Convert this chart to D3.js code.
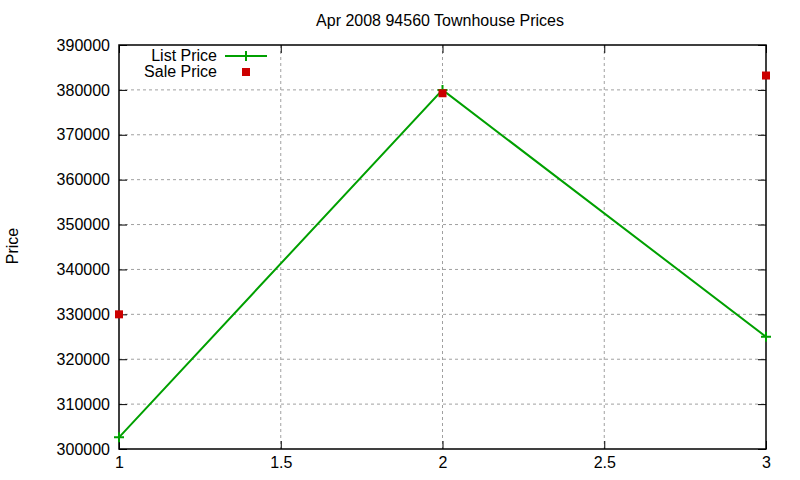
<!DOCTYPE html>
<html>
<head>
<meta charset="utf-8">
<script src="https://cdn.jsdelivr.net/npm/d3@7"></script>
<style>
  body { margin: 0; background: #fff; }
  text { font-family: "Liberation Sans", Arial, sans-serif; }
</style>
</head>
<body>
<div id="chart"></div>
<script>
// data
const xs = [1, 2, 3]
const list_price = [302600, 380000, 325000]
const sale_price = [330000, 379250, 383200]
const x_ticks = [1, 1.5, 2, 2.5, 3]
const y_ticks = [300000, 310000, 320000, 330000, 340000, 350000, 360000, 370000, 380000, 390000]

const width = 800
const height = 480
const plot_left = 119, plot_right = 766, plot_top = 45, plot_bottom = 449
const font_size = 16

const green = "#00a000"
const red = "#cc0000"

const svg = d3.select("#chart").append("svg").attr("width", width).attr("height", height)

const x_scale = d3.scaleLinear().domain([1, 3]).range([plot_left, plot_right])
const y_scale = d3.scaleLinear().domain([300000, 390000]).range([plot_bottom, plot_top])

// grid
const grid = svg.append("g")
grid.selectAll(".gx").data(x_ticks.slice(1, -1)).join("line")
  .attr("x1", d => x_scale(d)).attr("x2", d => x_scale(d))
  .attr("y1", plot_top).attr("y2", plot_bottom)
  .attr("stroke", "#a0a0a0").attr("stroke-dasharray", "3,3")
grid.selectAll(".gy").data(y_ticks.slice(1, -1)).join("line")
  .attr("x1", plot_left).attr("x2", plot_right)
  .attr("y1", d => y_scale(d)).attr("y2", d => y_scale(d))
  .attr("stroke", "#a0a0a0").attr("stroke-dasharray", "3,3")

// axes, ticks inward and mirrored like gnuplot
svg.append("g").attr("transform", `translate(${plot_left},0)`)
  .call(d3.axisLeft(y_scale).tickValues(y_ticks).tickFormat(d3.format("d")).tickSize(-8).tickPadding(9))
svg.append("g").attr("transform", `translate(${plot_right},0)`)
  .call(d3.axisRight(y_scale).tickValues(y_ticks).tickSize(-8).tickFormat(""))
svg.append("g").attr("transform", `translate(0,${plot_bottom})`)
  .call(d3.axisBottom(x_scale).tickValues(x_ticks).tickFormat(d3.format("")).tickSize(-8).tickPadding(8))
svg.append("g").attr("transform", `translate(0,${plot_top})`)
  .call(d3.axisTop(x_scale).tickValues(x_ticks).tickSize(-8).tickFormat(""))

svg.selectAll(".domain").remove()
svg.selectAll(".tick line").attr("stroke", "#000")
svg.selectAll(".tick text").attr("font-size", font_size).attr("fill", "#000")
  .style("font-family", "'Liberation Sans', Arial, sans-serif")

svg.append("rect")
  .attr("x", plot_left).attr("y", plot_top)
  .attr("width", plot_right - plot_left).attr("height", plot_bottom - plot_top)
  .attr("fill", "none").attr("stroke", "#000").attr("stroke-width", 1.5)

// list price line
const list_data = xs.map((x, i) => ({x, y: list_price[i]}))
const line = d3.line().x(d => x_scale(d.x)).y(d => y_scale(d.y))
svg.append("path").datum(list_data)
  .attr("fill", "none").attr("stroke", green).attr("stroke-width", 2)
  .attr("d", line)

svg.selectAll(".lp").data(list_data).join("path")
  .attr("d", d => `M${x_scale(d.x) - 5},${y_scale(d.y)}h10M${x_scale(d.x)},${y_scale(d.y) - 5}v10`)
  .attr("stroke", green).attr("stroke-width", 2)

// sale price squares
const sale_data = xs.map((x, i) => ({x, y: sale_price[i]}))
svg.selectAll(".sp").data(sale_data).join("rect")
  .attr("x", d => x_scale(d.x) - 4).attr("y", d => y_scale(d.y) - 4)
  .attr("width", 8).attr("height", 8).attr("fill", red)

// legend
const legend = svg.append("g").attr("font-size", font_size)
legend.append("text").attr("x", 217).attr("y", 61).attr("text-anchor", "end").text("List Price")
legend.append("line").attr("x1", 225).attr("x2", 267).attr("y1", 56).attr("y2", 56)
  .attr("stroke", green).attr("stroke-width", 2)
legend.append("path").attr("d", "M246,51v10").attr("stroke", green).attr("stroke-width", 2)
legend.append("text").attr("x", 217).attr("y", 77).attr("text-anchor", "end").text("Sale Price")
legend.append("rect").attr("x", 242).attr("y", 68).attr("width", 8).attr("height", 8).attr("fill", red)

// title and y label
svg.append("text").attr("x", 440).attr("y", 26).attr("text-anchor", "middle")
  .attr("font-size", font_size).text("Apr 2008 94560 Townhouse Prices")
svg.append("text").attr("transform", "translate(18,246) rotate(-90)")
  .attr("text-anchor", "middle").attr("font-size", font_size).text("Price")
</script>
</body>
</html>
